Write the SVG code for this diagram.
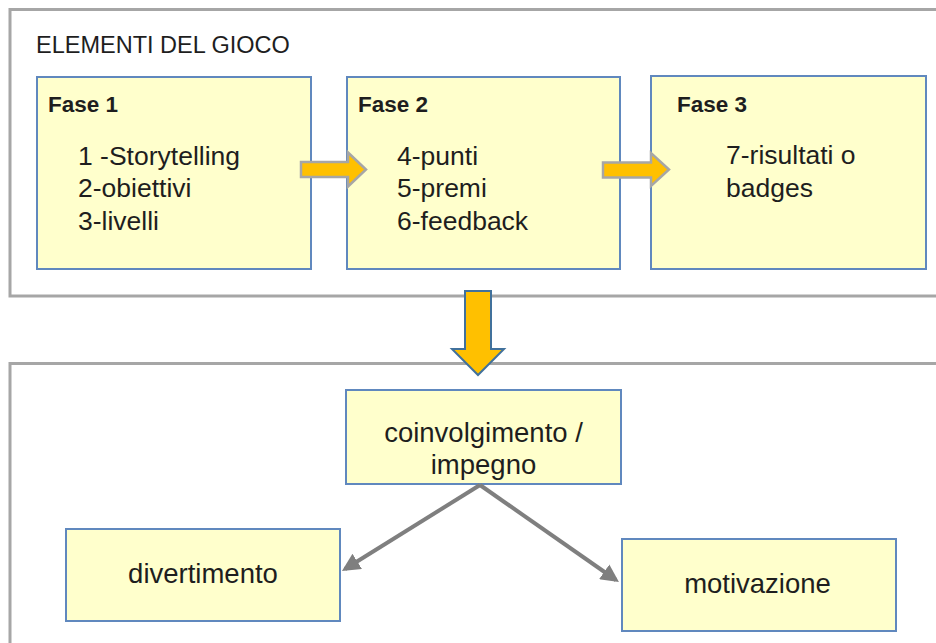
<svg xmlns="http://www.w3.org/2000/svg" width="936" height="643" viewBox="0 0 936 643">
  <style>
    .frame { fill: #ffffff; stroke: #a6a6a6; stroke-width: 3; }
    .box { fill: #ffffcc; stroke: #6088be; stroke-width: 2; }
    .t { font-family: "Liberation Sans", Arial, sans-serif; fill: #1e1e1e; }
    .title { font-size: 23.5px; }
    .head { font-size: 22.5px; font-weight: bold; }
    .item { font-size: 26.5px; }
    .lbl { font-size: 27.5px; text-anchor: middle; }
    .harrow { fill: #ffc000; stroke: #a6a6a6; stroke-width: 2.5; stroke-linejoin: miter; }
    .varrow { fill: #ffc000; stroke: #41719c; stroke-width: 2; stroke-linejoin: miter; }
    .link { fill: none; stroke: #7f7f7f; stroke-width: 4; }
  </style>
  <defs>
    <marker id="tip" viewBox="0 0 10 10" refX="8" refY="5" markerWidth="4.5" markerHeight="4.5" orient="auto" markerUnits="strokeWidth">
      <path d="M0,0 L10,5 L0,10 Z" fill="#7f7f7f"/>
    </marker>
  </defs>

  <!-- outer frames -->
  <g id="frame-elements">
    <rect class="frame" x="10" y="9.5" width="950" height="286.5"/>
    <text class="t title" x="36" y="53">ELEMENTI DEL GIOCO</text>
  </g>
  <g id="frame-effects">
    <rect class="frame" x="10" y="363.5" width="950" height="310"/>
  </g>

  <!-- phase boxes -->
  <g id="fase1">
    <rect class="box" x="37" y="77" width="274" height="192"/>
    <text class="t head" x="48" y="112">Fase 1</text>
    <text class="t item" x="78" y="165">1 -Storytelling</text>
    <text class="t item" x="78" y="197">2-obiettivi</text>
    <text class="t item" x="78" y="230">3-livelli</text>
  </g>
  <g id="fase2">
    <rect class="box" x="347" y="77" width="273" height="192"/>
    <text class="t head" x="358" y="112">Fase 2</text>
    <text class="t item" x="397" y="165">4-punti</text>
    <text class="t item" x="397" y="197">5-premi</text>
    <text class="t item" x="397" y="230">6-feedback</text>
  </g>
  <g id="fase3">
    <rect class="box" x="651" y="76" width="275" height="193"/>
    <text class="t head" x="677" y="112">Fase 3</text>
    <text class="t item" x="726" y="164">7-risultati o</text>
    <text class="t item" x="726" y="197">badges</text>
  </g>

  <!-- outcome boxes -->
  <g id="coinvolgimento">
    <rect class="box" x="346" y="390" width="275" height="94"/>
    <text class="t lbl" x="483.5" y="442">coinvolgimento /</text>
    <text class="t lbl" x="483.5" y="474">impegno</text>
  </g>
  <g id="divertimento">
    <rect class="box" x="66" y="529" width="274" height="92"/>
    <text class="t lbl" x="203" y="583">divertimento</text>
  </g>
  <g id="motivazione">
    <rect class="box" x="622" y="539" width="274" height="92"/>
    <text class="t lbl" x="757.5" y="593">motivazione</text>
  </g>

  <!-- connectors -->
  <g id="connectors">
    <polygon class="harrow" points="301,162 348,162 348,152.5 366,169.5 348,186.5 348,177 301,177"/>
    <polygon class="harrow" points="603,162.5 651,162.5 651,153 669,169.5 651,186 651,177.5 603,177.5"/>
    <polygon class="varrow" points="465,291 491,291 491,349 504,349 478,375 452,349 465,349"/>
    <path class="link" d="M480,485 L345,569" marker-end="url(#tip)"/>
    <path class="link" d="M480,485 L616,580" marker-end="url(#tip)"/>
  </g>
</svg>
